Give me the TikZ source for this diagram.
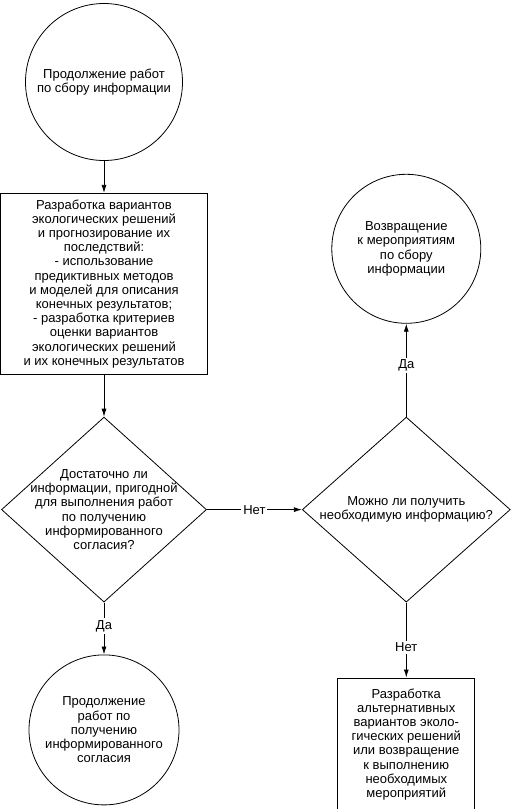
\documentclass[tikz,border=0pt]{standalone}
\usepackage{fontspec}
\setmainfont{Liberation Sans}
\usetikzlibrary{positioning,arrows.meta,shapes.geometric}

\tikzset{
  blk/.style={draw, line width=0.8pt, align=center, inner sep=2pt, font=\fontsize{13}{14.2}\selectfont},
  term/.style={blk, circle},
  proc/.style={blk, rectangle},
  decide/.style={blk, diamond, inner sep=-40pt},
  flow/.style={-{Latex[length=8pt,width=5pt]}, line width=0.8pt},
  ans/.style={fill=white, inner sep=2pt, font=\fontsize{13}{14.2}\selectfont}
}

\begin{document}
\begin{tikzpicture}
\useasboundingbox (0,0) rectangle (516pt,-809pt);
\node[term, minimum size=157pt] (start) at (104pt,-82pt) {Продолжение работ\\по сбору информации};
\node[proc, minimum width=207pt, minimum height=181pt, below=32pt of start] (develop) {Разработка вариантов\\экологических решений\\и прогнозирование их\\последствий:\\- использование\\предиктивных методов\\и моделей для описания\\конечных результатов;\\- разработка критериев\\оценки вариантов\\экологических решений\\и их конечных результатов};
\node[decide, minimum width=205pt, minimum height=185pt, below=42pt of develop] (enough) {Достаточно ли\\информации, пригодной\\для выполнения работ\\по получению\\информированного\\согласия?};
\node[decide, minimum width=208pt, minimum height=185pt, right=95pt of enough] (obtain) {Можно ли получить\\необходимую информацию?};
\node[term, minimum size=149pt, above=93pt of obtain] (back) {Возвращение\\к мероприятиям\\по сбору\\информации};
\node[term, minimum size=150pt, below=52pt of enough] (consent) {Продолжение\\работ по\\получению\\информированного\\согласия};
\node[proc, minimum width=137pt, minimum height=133pt, below=75pt of obtain] (altern) {Разработка\\альтернативных\\вариантов эколо-\\гических решений\\или возвращение\\к выполнению\\необходимых\\мероприятий};

\draw[flow] (start) -- (develop);
\draw[flow] (develop) -- (enough);
\draw[flow] (enough) -- node[ans] {Нет} (obtain);
\draw[flow] (enough) -- node[ans, pos=0.45] {Да} (consent);
\draw[flow] (obtain) -- node[ans, pos=0.55] {Да} (back);
\draw[flow] (obtain) -- node[ans, pos=0.6] {Нет} (altern);
\end{tikzpicture}
\end{document}
